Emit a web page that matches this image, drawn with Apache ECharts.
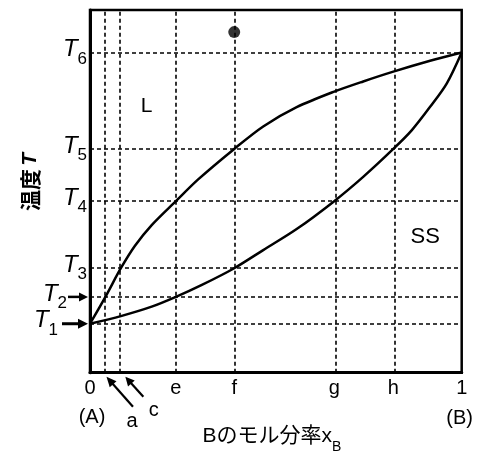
<!DOCTYPE html>
<html><head><meta charset="utf-8">
<script src="https://cdn.jsdelivr.net/npm/echarts@6/dist/echarts.min.js"></script>
<style>html,body{margin:0;padding:0;background:#fff}#c{width:487px;height:458px}</style>
</head><body><div id="c"></div>
<script>
// x positions (mole fraction of B)
const xTickNames = ['0', 'e', 'f', 'g', 'h', '1'];
const xTickValues = [0, 0.231, 0.388, 0.657, 0.816, 1];
const xGridNames = ['a', 'c', 'e', 'f', 'g', 'h'];
const xGridValues = [0.043, 0.083, 0.231, 0.388, 0.657, 0.816];
// temperature levels (relative scale 0..100)
const yTickNames = ['1', '2', '3', '4', '5', '6'];
const yTickValues = [13.5, 20.9, 28.8, 47.3, 61.7, 88.3];
// liquidus (upper curve)
const liquidusX = [0, 0.043, 0.083, 0.121, 0.166, 0.231, 0.291, 0.388, 0.466, 0.556, 0.657, 0.735, 0.816, 0.915, 1];
const liquidusY = [13.5, 21.2, 28.8, 35.0, 40.7, 47.3, 53.3, 61.7, 67.9, 73.2, 77.5, 80.3, 83.0, 86.0, 88.3];
// solidus (lower curve)
const solidusX = [0, 0.083, 0.166, 0.231, 0.301, 0.388, 0.466, 0.556, 0.657, 0.735, 0.816, 0.866, 0.915, 0.960, 1];
const solidusY = [13.5, 15.6, 18.2, 20.9, 24.2, 28.8, 33.8, 39.6, 47.3, 54.0, 61.7, 66.9, 73.3, 79.8, 88.3];
// state point
const pointX = [0.388];
const pointY = [93.9];

const FONT = "'Liberation Sans', Arial, sans-serif";
const CJK = "'Liberation Sans', 'Noto Sans CJK JP', sans-serif";

function nearestIdx(arr, v) {
  let best = 0;
  for (let i = 1; i < arr.length; i++) if (Math.abs(arr[i] - v) < Math.abs(arr[best] - v)) best = i;
  return best;
}
const zip = (xs, ys) => xs.map((x, i) => [x, ys[i]]);

const chart = echarts.init(document.getElementById('c'), null, { renderer: 'canvas' });
const dash = { color: '#000', width: 1.6, type: [4, 3] };

const yLabelRich = {
  t: { fontFamily: FONT, fontStyle: 'italic', fontSize: 24, color: '#000', lineHeight: 30, verticalAlign: 'top' },
  s: { fontFamily: FONT, fontSize: 17, color: '#000', lineHeight: 30, verticalAlign: 'bottom' },
  g1: { width: 29, lineHeight: 30 },
  g2: { width: 20, lineHeight: 30 }
};
const yLabelFormatter = v => {
  const i = nearestIdx(yTickValues, v);
  return '{t|T}{s|' + yTickNames[i] + '}' + (i === 0 ? '{g1|}' : i === 1 ? '{g2|}' : '');
};
// T2 sits too close to T1 for one axis, so it is labelled by a twin axis
const yMain = yTickValues.filter((v, i) => i !== 1);
const yTwin = [yTickValues[1]];

const yAxisBase = (vals, showLine) => ({
  type: 'value', min: 0, max: 100, position: 'left', offset: 0,
  axisLine: { show: showLine, lineStyle: { color: '#000', width: 3 } },
  axisTick: { show: false },
  splitLine: { show: false },
  axisLabel: {
    customValues: vals, margin: 3, color: '#000',
    showMinLabel: true, showMaxLabel: true, hideOverlap: false,
    formatter: yLabelFormatter, rich: yLabelRich
  }
});

chart.setOption({
  animation: false,
  backgroundColor: '#fff',
  grid: { left: 90, right: 25.3, top: 10, bottom: 85.3, show: true, borderColor: '#000', borderWidth: 2.5, backgroundColor: 'transparent' },
  xAxis: {
    type: 'value', min: 0, max: 1,
    axisLine: { show: true, lineStyle: { color: '#000', width: 3 } },
    axisTick: { show: false },
    splitLine: { show: false },
    axisLabel: {
      customValues: xTickValues, margin: 6, color: '#000', fontSize: 20, fontFamily: FONT,
      showMinLabel: true, showMaxLabel: true, hideOverlap: false,
      formatter: v => xTickNames[nearestIdx(xTickValues, v)]
    }
  },
  yAxis: [yAxisBase(yMain, true), yAxisBase(yTwin, false)],
  series: [
    {
      type: 'line', silent: true, data: [], symbol: 'none',
      markLine: {
        silent: true, symbol: 'none', label: { show: false }, lineStyle: dash, animation: false,
        data: xGridValues.map(v => ({ xAxis: v })).concat(yTickValues.map(v => ({ yAxis: v })))
      }
    },
    { type: 'line', data: zip(liquidusX, liquidusY), smooth: 0.3, symbol: 'none', lineStyle: { color: '#000', width: 2.5 }, z: 5 },
    { type: 'line', data: zip(solidusX, solidusY), smooth: 0.3, symbol: 'none', lineStyle: { color: '#000', width: 2.5 }, z: 5 },
    { type: 'scatter', data: zip(pointX, pointY), symbol: 'circle', symbolSize: 12, itemStyle: { color: '#000' }, z: 6 }
  ]
});

function arrow(x1, y1, x2, y2, hl, hw, w) {
  const dx = x2 - x1, dy = y2 - y1, L = Math.hypot(dx, dy);
  const ux = dx / L, uy = dy / L, bx = x2 - ux * hl, by = y2 - uy * hl;
  const px = -uy, py = ux;
  return [
    { type: 'line', shape: { x1, y1, x2: bx + ux, y2: by + uy }, style: { stroke: '#000', lineWidth: w }, z: 20 },
    { type: 'polygon', shape: { points: [[x2, y2], [bx + px * hw / 2, by + py * hw / 2], [bx - px * hw / 2, by - py * hw / 2]] }, style: { fill: '#000' }, z: 20 }
  ];
}

const P = (x, y) => chart.convertToPixel({ gridIndex: 0 }, [x, y]);
const o = P(0, 0), one = P(1, 0);
const pa = P(xGridValues[0], 0), pc = P(xGridValues[1], 0);
const pT1 = P(0, yTickValues[0]), pT2 = P(0, yTickValues[1]);
const bottom = o[1];

let g = [];
g = g.concat(arrow(pT1[0] - 28, pT1[1], pT1[0] - 2, pT1[1], 10, 10, 3));
g = g.concat(arrow(pT2[0] - 22, pT2[1], pT2[0] - 2, pT2[1], 9, 9, 2.5));
g = g.concat(arrow(pa[0] + 27, bottom + 34, pa[0] + 0.5, bottom + 4, 10, 9, 2.2));
g = g.concat(arrow(pc[0] + 22.5, bottom + 24, pc[0] + 4.5, bottom + 4, 9, 9, 2.2));

const txt = (x, y, text, size, extra) => Object.assign({
  type: 'text', x, y, z: 20,
  style: Object.assign({ text, fontFamily: FONT, fontSize: size, fill: '#000', align: 'center', verticalAlign: 'middle' }, extra || {})
});

g.push(txt(o[0] + 2, bottom + 45, '(A)', 20));
g.push(txt(one[0] - 2, bottom + 46, '(B)', 20));
g.push(txt(pa[0] + 26, bottom + 49, xGridNames[0], 20));
g.push(txt(pc[0] + 33, bottom + 38, xGridNames[1], 20));
const lp = P(0.152, 73.5);
g.push(txt(lp[0], lp[1], 'L', 21));
const sp = P(0.902, 37.5);
g.push(txt(sp[0], sp[1], 'SS', 22));
// x axis title
g.push({
  type: 'text', x: (o[0] + one[0]) / 2 - 4, y: bottom + 67, z: 20,
  style: {
    text: '{n|Bのモル分率}{x|x}{b|B}', align: 'center', verticalAlign: 'middle',
    rich: {
      n: { fontFamily: CJK, fontSize: 21, fill: '#000', lineHeight: 28, verticalAlign: 'top' },
      x: { fontFamily: FONT, fontSize: 21, fill: '#000', lineHeight: 28, verticalAlign: 'top' },
      b: { fontFamily: FONT, fontSize: 14, fill: '#000', lineHeight: 28, verticalAlign: 'bottom' }
    }
  }
});
// y axis title
g.push({
  type: 'text', x: 30, y: 182, rotation: Math.PI / 2, z: 20,
  style: {
    text: '{n|温度} {t|T}', align: 'center', verticalAlign: 'middle',
    rich: {
      n: { fontFamily: "'Noto Sans CJK JP', sans-serif", fontWeight: 'bold', fontSize: 21, fill: '#000' },
      t: { fontFamily: FONT, fontStyle: 'italic', fontWeight: 'bold', fontSize: 21, fill: '#000' }
    }
  }
});
chart.setOption({ graphic: { elements: g } });
</script>
</body></html>
